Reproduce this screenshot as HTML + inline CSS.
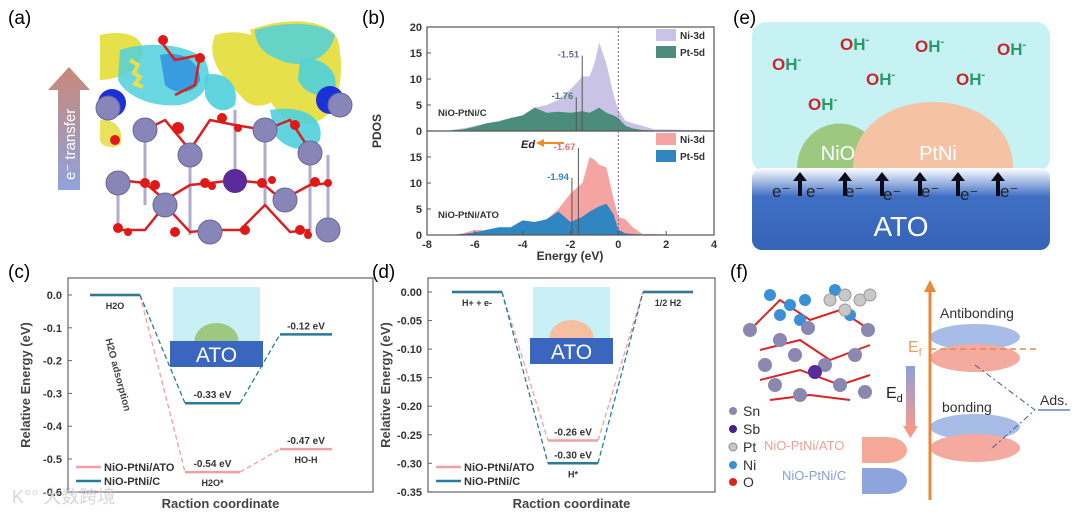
<!DOCTYPE html>
<html><head><meta charset="utf-8"><style>
html,body{margin:0;padding:0;background:#fff}
svg{display:block;font-family:"Liberation Sans",Arial,sans-serif}
</style></head><body>
<svg id="fig" width="1080" height="514" viewBox="0 0 1080 514">
<defs>
<linearGradient id="arrG" x1="0" y1="1" x2="0" y2="0"><stop offset="0" stop-color="#8fa3dc"/><stop offset="1" stop-color="#c98878"/></linearGradient>
<linearGradient id="atoG" x1="0" y1="0" x2="0" y2="1"><stop offset="0" stop-color="#ffffff"/><stop offset="0.35" stop-color="#3f6fc4"/><stop offset="1" stop-color="#3563b8"/></linearGradient>
<linearGradient id="edG" x1="0" y1="0" x2="0" y2="1"><stop offset="0" stop-color="#8ea0d8"/><stop offset="1" stop-color="#f09a8c"/></linearGradient>
</defs>

<!-- Panel a -->
<g>
<text x="8" y="24" font-size="19">(a)</text>
<g>
<path d="M100,35 C130,28 150,40 140,60 C135,75 110,80 100,80 Z" fill="#e6e04a"/>
<path d="M215,35 C250,25 275,45 280,60 C300,55 300,80 285,90 C270,110 250,110 240,95 C225,80 205,60 215,35 Z" fill="#e6e04a"/>
<path d="M250,30 C290,15 330,20 338,40 C345,70 340,110 320,120 C300,130 280,120 270,100 Z" fill="#e6e04a"/>
<path d="M255,30 C280,22 320,20 335,35 C330,60 300,70 280,60 C265,55 255,45 255,30 Z" fill="#4fd0dc" opacity="0.85"/>
<path d="M300,60 C320,55 340,70 335,90 C325,100 305,95 298,80 Z" fill="#4fd0dc" opacity="0.9"/>
<path d="M120,50 C150,40 190,45 205,60 C215,80 205,100 180,105 C150,108 125,95 118,80 Z" fill="#4fd0dc" opacity="0.85"/>
<path d="M160,55 C180,50 200,60 200,80 C195,95 175,95 165,85 Z" fill="#2a8ee0" opacity="0.8"/>
<path d="M205,75 C225,70 240,85 235,105 C225,115 210,110 205,95 Z" fill="#4fd0dc" opacity="0.9"/>
<path d="M270,110 C300,105 325,115 320,140 C310,155 285,150 275,135 Z" fill="#4fd0dc" opacity="0.9"/>
<path d="M100,120 C115,118 125,130 120,145 C110,150 100,145 100,140 Z" fill="#e6e04a" opacity="0.9"/>
<path d="M130,60 l8,5 -4,8 6,4 -5,7 8,3" stroke="#e6e04a" stroke-width="4" fill="none"/>
</g>
<circle cx="112" cy="103" r="14" fill="#1a30d8"/><circle cx="330" cy="100" r="14" fill="#1a30d8"/>
<g stroke="#b0aacc" stroke-width="3">
<line x1="145" y1="130" x2="145" y2="205"/><line x1="190" y1="155" x2="190" y2="235"/><line x1="265" y1="130" x2="265" y2="205"/><line x1="310" y1="155" x2="310" y2="232"/><line x1="118" y1="183" x2="118" y2="230"/><line x1="235" y1="110" x2="235" y2="183"/><line x1="328" y1="155" x2="328" y2="232"/>
</g>
<g stroke="#d82020" stroke-width="2.5" fill="none">
<path d="M118,180 L145,183 L165,200 L190,185 L210,183 L235,180 L262,183 L282,200 L310,185 L330,183"/>
<path d="M118,230 L145,230 L165,205 L190,232 L210,230 L240,230 L265,205 L290,232 L310,230"/>
<path d="M145,130 L165,120 L190,150 L210,120 L235,125 L265,130 L290,120 L310,150"/>
<path d="M160,40 L175,60 L200,55 L195,85 L175,95"/>
</g>
<g fill="#8886b8" stroke="#6a6898" stroke-width="1">
<circle cx="108" cy="108" r="12"/><circle cx="340" cy="105" r="12"/>
<circle cx="145" cy="130" r="12"/><circle cx="265" cy="130" r="12"/>
<circle cx="190" cy="155" r="12"/><circle cx="310" cy="153" r="12"/>
<circle cx="118" cy="183" r="12"/><circle cx="285" cy="200" r="12"/>
<circle cx="165" cy="205" r="12"/>
<circle cx="210" cy="232" r="12"/><circle cx="328" cy="230" r="12"/>
</g>
<circle cx="235" cy="181" r="12" fill="#5a2a9a"/>
<g fill="#e01818">
<circle cx="163" cy="40" r="5"/><circle cx="200" cy="58" r="5"/><circle cx="178" cy="128" r="6"/><circle cx="222" cy="118" r="5"/><circle cx="238" cy="128" r="4"/>
<circle cx="145" cy="183" r="5"/><circle cx="155" cy="185" r="5"/><circle cx="205" cy="183" r="5"/><circle cx="212" cy="186" r="4"/>
<circle cx="262" cy="183" r="5"/><circle cx="272" cy="180" r="4"/><circle cx="315" cy="182" r="5"/><circle cx="328" cy="183" r="4"/>
<circle cx="118" cy="228" r="5"/><circle cx="128" cy="232" r="4"/><circle cx="175" cy="232" r="5"/><circle cx="245" cy="230" r="5"/><circle cx="300" cy="230" r="5"/><circle cx="308" cy="235" r="4"/>
<circle cx="115" cy="140" r="5"/><circle cx="295" cy="125" r="5"/>
</g>
<polygon points="69,67 48,90 58,90 58,190 80,190 80,90 90,90" fill="url(#arrG)"/>
<text transform="translate(75,180) rotate(-90)" font-size="15" fill="#fff">e⁻ transfer</text>
</g>

<!-- Panel b -->
<g id="pb">
<text x="362" y="24" font-size="19">(b)</text>
</g>

<!-- Panel c -->
<g id="pc">
<text x="8" y="278" font-size="19">(c)</text>
</g>

<!-- Panel d -->
<g id="pd">
<text x="372" y="278" font-size="19">(d)</text>
</g>

<!-- Panel e -->
<g>
<text x="733" y="24" font-size="19">(e)</text>
<rect x="752" y="22" width="298" height="150" rx="14" fill="#c6f2f4"/>
<path d="M797,168 A42,44 0 0 1 882,168 Z" fill="#9cc97f"/>
<path d="M853,168 C853,80 1013,80 1013,168 Z" fill="#f5c3a4"/>
<text x="838" y="160" font-size="20" fill="#fff" text-anchor="middle">NiO</text>
<text x="938" y="160" font-size="20" fill="#fff" text-anchor="middle">PtNi</text>
<rect x="752" y="168" width="298" height="82" rx="10" fill="url(#atoG)"/>
<text x="901" y="236" font-size="28" fill="#fff" text-anchor="middle">ATO</text>
<g font-size="17" font-weight="bold">
<text x="772" y="70"><tspan fill="#c8262a">O</tspan><tspan fill="#2a9a6a">H</tspan><tspan fill="#2a9a6a" font-size="11" dy="-7">-</tspan></text>
<text x="840" y="50"><tspan fill="#c8262a">O</tspan><tspan fill="#2a9a6a">H</tspan><tspan fill="#2a9a6a" font-size="11" dy="-7">-</tspan></text>
<text x="915" y="52"><tspan fill="#c8262a">O</tspan><tspan fill="#2a9a6a">H</tspan><tspan fill="#2a9a6a" font-size="11" dy="-7">-</tspan></text>
<text x="997" y="55"><tspan fill="#c8262a">O</tspan><tspan fill="#2a9a6a">H</tspan><tspan fill="#2a9a6a" font-size="11" dy="-7">-</tspan></text>
<text x="866" y="85"><tspan fill="#c8262a">O</tspan><tspan fill="#2a9a6a">H</tspan><tspan fill="#2a9a6a" font-size="11" dy="-7">-</tspan></text>
<text x="956" y="85"><tspan fill="#c8262a">O</tspan><tspan fill="#2a9a6a">H</tspan><tspan fill="#2a9a6a" font-size="11" dy="-7">-</tspan></text>
<text x="808" y="110"><tspan fill="#c8262a">O</tspan><tspan fill="#2a9a6a">H</tspan><tspan fill="#2a9a6a" font-size="11" dy="-7">-</tspan></text>
</g>
<g font-size="17" fill="#222">
<text x="772" y="197">e⁻</text><text x="806" y="197">e⁻</text><text x="845" y="197">e⁻</text><text x="883" y="200">e⁻</text><text x="921" y="197">e⁻</text><text x="960" y="200">e⁻</text><text x="1000" y="197">e⁻</text>
</g>
<g fill="#0a0a1a">
<path d="M800,172 l-7,9 h5 v15 h4 v-15 h5z"/><path d="M845,172 l-7,9 h5 v15 h4 v-15 h5z"/><path d="M882,172 l-7,9 h5 v15 h4 v-15 h5z"/><path d="M920,172 l-7,9 h5 v15 h4 v-15 h5z"/><path d="M958,172 l-7,9 h5 v15 h4 v-15 h5z"/><path d="M998,172 l-7,9 h5 v15 h4 v-15 h5z"/>
</g>
</g>

<!-- Panel f -->
<g>
<text x="730" y="278" font-size="19">(f)</text>
<g stroke="#d22" stroke-width="2" fill="none"><path d="M755,325 L780,300 L810,320 L840,310 L870,330 M760,350 L800,340 L830,360 L870,345 M760,380 L800,370 L840,385 L870,375 M770,400 L810,395 L850,400"/></g>
<g fill="#3a90d8"><circle cx="770" cy="295" r="6"/><circle cx="790" cy="305" r="6"/><circle cx="780" cy="315" r="6"/><circle cx="805" cy="300" r="6"/><circle cx="800" cy="320" r="6"/><circle cx="835" cy="290" r="6"/><circle cx="850" cy="315" r="6"/></g>
<g fill="#c8c8c8" stroke="#999"><circle cx="830" cy="300" r="6"/><circle cx="845" cy="295" r="6"/><circle cx="860" cy="300" r="6"/><circle cx="870" cy="295" r="6"/><circle cx="845" cy="310" r="6"/></g>
<g fill="#8a88b0"><circle cx="750" cy="330" r="7"/><circle cx="780" cy="340" r="7"/><circle cx="808" cy="328" r="7"/><circle cx="868" cy="330" r="7"/><circle cx="795" cy="355" r="7"/><circle cx="855" cy="355" r="7"/><circle cx="765" cy="365" r="7"/><circle cx="825" cy="365" r="7"/><circle cx="775" cy="385" r="7"/><circle cx="840" cy="385" r="7"/><circle cx="800" cy="395" r="7"/><circle cx="865" cy="392" r="7"/></g>
<circle cx="815" cy="372" r="7" fill="#5a2a9a"/>
<g font-size="14" fill="#333">
<circle cx="733" cy="411" r="4" fill="#8a88b0"/><text x="743" y="416">Sn</text>
<circle cx="733" cy="429" r="4" fill="#4a2080"/><text x="743" y="434">Sb</text>
<circle cx="733" cy="447" r="4" fill="#c8c8c8" stroke="#888"/><text x="743" y="452">Pt</text>
<circle cx="733" cy="465" r="4" fill="#3a90d8"/><text x="743" y="470">Ni</text>
<circle cx="733" cy="482" r="4" fill="#d22"/><text x="743" y="487">O</text>
</g>
<text x="764" y="450" font-size="13" fill="#f0a098">NiO-PtNi/ATO</text>
<text x="782" y="480" font-size="13" fill="#8aa0d8">NiO-PtNi/C</text>
<path d="M862,437 h25 a20,13 0 0 1 0,26 h-25z" fill="#f5a898"/>
<path d="M862,468 h25 a20,13 0 0 1 0,26 h-25z" fill="#8ea4dc"/>
<rect x="906" y="366" width="9" height="60" fill="url(#edG)"/><path d="M903,426 h15 l-7.5,12z" fill="#f09a8c"/>
<text x="886" y="398" font-size="16" fill="#222">E<tspan font-size="11" dy="4">d</tspan></text>
<ellipse cx="975" cy="337" rx="45" ry="13" fill="#a8bce8"/>
<ellipse cx="975" cy="358" rx="45" ry="14" fill="#f5aaa0"/>
<ellipse cx="975" cy="427" rx="45" ry="13" fill="#a8bce8"/>
<ellipse cx="975" cy="448" rx="45" ry="14" fill="#f5aaa0"/>
<line x1="930" y1="500" x2="930" y2="290" stroke="#e8883a" stroke-width="3"/><path d="M924,292 l6,-12 l6,12z" fill="#e8883a"/>
<text x="908" y="352" font-size="16" fill="#e8a060">E<tspan font-size="11" dy="4">f</tspan></text>
<line x1="930" y1="349" x2="1040" y2="349" stroke="#e88850" stroke-dasharray="6,4" stroke-width="1.5"/>
<text x="940" y="318" font-size="14" fill="#333">Antibonding</text>
<text x="942" y="412" font-size="14" fill="#333">bonding</text>
<path d="M975,365 L1035,410 L990,450" stroke="#4a5a8a" stroke-dasharray="6,3,2,3" fill="none"/>
<text x="1040" y="405" font-size="14" fill="#333">Ads.</text>
<line x1="1038" y1="410" x2="1070" y2="410" stroke="#8aa0d8" stroke-width="2"/>
</g>
<text x="12" y="503" font-size="18" fill="#ccc" opacity="0.8" font-family="'Liberation Sans','Noto Sans CJK SC',sans-serif">K°° 大数跨境</text>
</svg>

<script>
const NS='http://www.w3.org/2000/svg';
function mk(tag,attrs,parent){const e=document.createElementNS(NS,tag);for(const k in attrs)e.setAttribute(k,attrs[k]);parent.appendChild(e);return e;}

// ---------- Panel b data ----------
const pdosE=[-7,-6.5,-6,-5.5,-5,-4.5,-4,-3.5,-3,-2.5,-2,-1.5,-1.2,-1,-0.8,-0.5,-0.2,0,0.3,0.6,1,1.5,2,3,4];
const topNi=[0.2,0.5,1,1.5,2,2.5,3,4.5,5,6,8,10.5,10.5,13,17,13,7,4,2,1.5,1,0.3,0.3,0.2,0.1];
const topPt=[0.1,0.3,0.8,1.5,1.8,2.5,3,4.5,3.5,3.7,3.5,3.8,3.5,4,4.5,3.5,3,2.5,1,0.5,0.2,0.1,0.1,0.1,0];
const botNi=[0,0.3,1,0.8,0.8,1.5,2,2.5,3,5,8,10,15,14.5,13.5,13,7,3.5,3,1.5,0.2,0.2,0.1,0.1,0];
const botPt=[0,0.2,0.5,1,1.5,1.5,2.8,2.5,3,4.5,2.5,3.5,4.5,5,5.5,6,4,1,0.3,0.2,0.1,0.1,0.1,0.1,0];
const eTicks=[-8,-6,-4,-2,0,2,4];
const pdosTicks=[0,5,10,15,20];

const pb=document.getElementById('pb');
const bx=e=>427+(e+8)*(287/12);
const byTop=v=>131-v*5.2, byBot=v=>235-v*5.2;
function area(vals,yf,fill,name){
  let d='M'+bx(pdosE[0])+','+yf(0);
  pdosE.forEach((e,i)=>{d+=' L'+bx(e).toFixed(1)+','+yf(vals[i]).toFixed(1);});
  d+=' L'+bx(pdosE[pdosE.length-1])+','+yf(0)+'Z';
  const p=mk('path',{d:d,fill:fill},pb);
  
  
}
area(topNi,byTop,'#c9c4e6','area-top-ni3d');
area(topPt,byTop,'#4c8c7c','area-top-pt5d');
area(botNi,byBot,'#f6a3a3','area-bottom-ni3d');
area(botPt,byBot,'#2f86c0','area-bottom-pt5d');
const fb=mk('rect',{x:427,y:27,width:287,height:208,fill:'none',stroke:'#555','stroke-width':1.2},pb);


mk('line',{x1:427,y1:131,x2:714,y2:131,stroke:'#555','stroke-width':1.2},pb);
const zl=mk('line',{x1:bx(0),y1:27,x2:bx(0),y2:235,stroke:'#8a5a9a','stroke-dasharray':'2,2'},pb);


eTicks.forEach(t=>{
  mk('line',{x1:bx(t),y1:235,x2:bx(t),y2:231,stroke:'#555'},pb);
  const tx=mk('text',{x:bx(t),y:248,'font-size':11,'font-weight':'bold','text-anchor':'middle',fill:'#333'},pb);
  tx.textContent=t;
  
  
});
pdosTicks.forEach(t=>{
  [[byTop,t],[byBot,t]].forEach(([f])=>{
    if(f===byBot&&t===20)return;
    mk('line',{x1:427,y1:f(t),x2:431,y2:f(t),stroke:'#555'},pb);
    const tx=mk('text',{x:422,y:f(t)+4,'font-size':11,'font-weight':'bold','text-anchor':'end',fill:'#333'},pb);
    tx.textContent=t;
    
    
  });
});
let t;
t=mk('text',{x:570,y:260,'font-size':12,'font-weight':'bold','text-anchor':'middle',fill:'#333'},pb);t.textContent='Energy (eV)';


t=mk('text',{transform:'translate(381,131) rotate(-90)','font-size':12,'font-weight':'bold','text-anchor':'middle',fill:'#333'},pb);t.textContent='PDOS';


t=mk('text',{x:438,y:116,'font-size':9.5,'font-weight':'bold',fill:'#333'},pb);t.textContent='NiO-PtNi/C';


t=mk('text',{x:438,y:218,'font-size':9.5,'font-weight':'bold',fill:'#333'},pb);t.textContent='NiO-PtNi/ATO';


const dCenters=[[-1.51,'-1.51',byTop(14.5),131,'#6a6a9a'],[-1.76,'-1.76',byTop(6.5),131,'#4c7c6c'],[-1.67,'-1.67',148,235,'#e07070'],[-1.94,'-1.94',byBot(11),235,'#2f86c0']];
dCenters.forEach(([e,l,y1,y2,c])=>{
  mk('line',{x1:bx(e),y1:y1,x2:bx(e),y2:y2,stroke:'#555','stroke-width':1},pb);
  const tx=mk('text',{x:bx(e)-3,y:y1+2,'font-size':9.5,'font-weight':'bold','text-anchor':'end',fill:c},pb);
  tx.textContent=l;
  
  
});
t=mk('text',{x:521,y:148,'font-size':11,'font-weight':'bold','font-style':'italic',fill:'#222'},pb);t.textContent='Ed';


const ea=mk('path',{d:'M536,143 l8,-4 v3 h20 v2 h-20 v3z',fill:'#f08c20'},pb);


[[35,'#c9c4e6','Ni-3d'],[52,'#4c8c7c','Pt-5d'],[139,'#f6a3a3','Ni-3d'],[156,'#2f86c0','Pt-5d']].forEach(([y,c,l])=>{
  mk('rect',{x:656,y:y-6,width:20,height:12,fill:c},pb);
  const tx=mk('text',{x:680,y:y+4,'font-size':10,'font-weight':'bold',fill:'#333'},pb);
  tx.textContent=l;
  
  
});

// ---------- Energy diagrams ----------
const cTicks=[0,-0.1,-0.2,-0.3,-0.4,-0.5,-0.6];
const cStates=['H2O','H2O*','HO-H'];
const cBlue=[0,-0.33,-0.12];
const cRed=[0,-0.54,-0.47];
const dTicks=[0,-0.05,-0.10,-0.15,-0.20,-0.25,-0.30,-0.35];
const dStates=['H+ + e-','H*','1/2 H2'];
const dBlue=[0,-0.30,0];
const dRed=[0,-0.26,0];

function diagram(g,cfg){
  const y=v=>cfg.y0+(-v)*cfg.k;
  const fr=mk('rect',{x:cfg.fx,y:278,width:cfg.fw,height:214,fill:'none',stroke:'#666','stroke-width':1.2},g);
  
  
  cfg.ticks.forEach(tk=>{
    mk('line',{x1:cfg.fx,y1:y(tk),x2:cfg.fx+4,y2:y(tk),stroke:'#666'},g);
    const tx=mk('text',{x:cfg.fx-6,y:y(tk)+4,'font-size':11,'font-weight':'bold','text-anchor':'end',fill:'#333'},g);
    tx.textContent=tk.toFixed(cfg.dec);
    
    
  });
  let tt=mk('text',{transform:`translate(${cfg.fx-38},385) rotate(-90)`,'font-size':13,'font-weight':'bold','text-anchor':'middle',fill:'#444'},g);
  tt.textContent='Relative Energy (eV)';
  
  
  tt=mk('text',{x:cfg.fx+cfg.fw/2,y:508,'font-size':13,'font-weight':'bold','text-anchor':'middle',fill:'#444'},g);
  tt.textContent='Raction coordinate';
  
  
  const ins=cfg.inset;
  mk('rect',{x:ins[0],y:ins[1],width:ins[2],height:ins[3],fill:'#c9f0f4'},g);
  mk('path',{d:`M${ins[0]+ins[2]/2-22},${ins[1]+ins[3]-26} a22,18 0 0 1 44,0z`,fill:cfg.domeC},g);
  mk('rect',{x:ins[0]-3,y:ins[1]+ins[3]-26,width:ins[2]+6,height:26,fill:'#3a66c0'},g);
  tt=mk('text',{x:ins[0]+ins[2]/2,y:ins[1]+ins[3]-5,'font-size':21,'text-anchor':'middle',fill:'#fff'},g);
  tt.textContent='ATO';
  
  
  [[cfg.red,'#f0a0a0'],[cfg.blue,'#2a7a9a']].forEach(([vals,c])=>{
    vals.forEach((v,i)=>{
      const xs=cfg.lx[i];
      const l=mk('line',{x1:xs[0],y1:y(v),x2:xs[1],y2:y(v),stroke:c,'stroke-width':2.5},g);
      
      
      if(i>0){
        const dl=mk('line',{x1:cfg.lx[i-1][1],y1:y(vals[i-1]),x2:xs[0],y2:y(v),stroke:c,'stroke-width':1.3,'stroke-dasharray':'5,3'},g);
        
        
      }
      if(v!==0){
        const tx=mk('text',{x:(xs[0]+xs[1])/2,y:y(v)-5,'font-size':10,'font-weight':'bold','text-anchor':'middle',fill:'#333'},g);
        tx.textContent=v.toFixed(2)+' eV';
        
        
      }
    });
  });
  cfg.states.forEach((s,i)=>{
    const xs=cfg.lx[i];
    const v=Math.min(cfg.red[i],cfg.blue[i]);
    const tx=mk('text',{x:(xs[0]+xs[1])/2,y:y(v)+14,'font-size':9,'font-weight':'bold','text-anchor':'middle',fill:'#333'},g);
    tx.textContent=s;
    
    
  });
  [['NiO-PtNi/ATO','#f0a0a0',cfg.legY],['NiO-PtNi/C','#2a7a9a',cfg.legY+14]].forEach(([l,c,yy])=>{
    mk('line',{x1:cfg.fx+8,y1:yy,x2:cfg.fx+33,y2:yy,stroke:c,'stroke-width':2.5},g);
    const tx=mk('text',{x:cfg.fx+36,y:yy+4,'font-size':11,'font-weight':'bold',fill:'#333'},g);
    tx.textContent=l;
    
    
  });
}
diagram(document.getElementById('pc'),{fx:68,fw:305,y0:295,k:328,ticks:cTicks,dec:1,states:cStates,blue:cBlue,red:cRed,lx:[[90,140],[185,240],[280,332]],inset:[173,287,87,80],domeC:'#9cc97f',legY:467});
diagram(document.getElementById('pd'),{fx:428,fw:287,y0:292,k:571,ticks:dTicks,dec:2,states:dStates,blue:dBlue,red:dRed,lx:[[452,502],[548,598],[643,693]],inset:[533,287,77,77],domeC:'#f5bfa0',legY:467});
const h2o=mk('text',{x:140,y:366,'font-size':10,'font-weight':'bold',fill:'#444',transform:'rotate(75 140 330)'},document.getElementById('pc'));
h2o.textContent='H2O adsorption';


</script>
</body></html>
